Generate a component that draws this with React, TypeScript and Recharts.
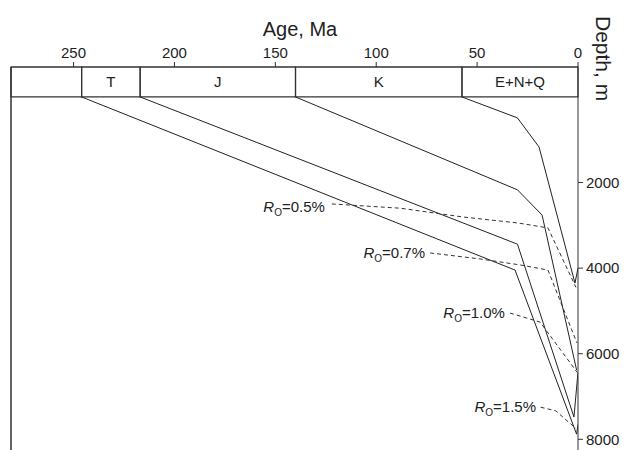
import React from 'react';
import { LineChart, Line, XAxis, YAxis, ReferenceArea, ReferenceLine, ReferenceDot } from 'recharts';

// Geological time scale (Ma)
const periodNames = ['', 'T', 'J', 'K', 'E+N+Q'];
const periodStart = [281, 246, 217, 140, 57.5];
const periodEnd = [246, 217, 140, 57.5, 0];

const ageTicks = [0, 50, 100, 150, 200, 250];
const depthTicks = [2000, 4000, 6000, 8000];

// burial curves, one per horizon: [age Ma, depth m]
const burialE = [[57.5, 0], [30, 490], [19.3, 1170], [1.5, 4350], [0, 4000]];
const burialK = [[140, 0], [30, 2170], [17.8, 2760], [0.7, 6380]];
const burialJ = [[217, 0], [30, 3440], [2, 7480], [0, 6430]];
const burialT = [[246, 0], [31.2, 4045], [0.7, 7880], [0, 7650]];

// isoreflectance lines
const ro05 = [[122, 2500], [88, 2600], [57, 2805], [29.7, 2945], [14.9, 3060], [1, 4450]];
const ro07 = [[73.3, 3645], [48.6, 3785], [28.7, 3925], [14.9, 4045], [0.5, 5750]];
const ro10 = [[33.7, 5050], [18.8, 5260], [0.5, 6430]];
const ro15 = [[18.5, 7250], [11, 7335], [1, 7750]];

// label anchors (right end of the label text)
const roLabels = ['0.5%', '0.7%', '1.0%', '1.5%'];
const roLabelAge = [125.4, 75.8, 36.2, 20.8];
const roLabelDepth = [2572, 3645, 5050, 7245];

const toPts = (arr: number[][]) => arr.map(([age, depth]) => ({ age, depth }));

const FONT = '"Liberation Sans", Arial, sans-serif';
const INK = '#222';

const RoLabel = ({ cx, cy, value }: any) => (
  <text x={cx} y={cy} dy={5} textAnchor="end" fontFamily={FONT} fontSize={15} fill={INK}>
    <tspan fontStyle="italic">R</tspan>
    <tspan fontSize={10} dy={4}>O</tspan>
    <tspan dy={-4}>={value}</tspan>
  </text>
);

const App = () => {
  const solids = [burialE, burialK, burialJ, burialT];
  const dashed = [ro05, ro07, ro10, ro15];
  return (
    <div style={{ position: 'absolute', left: 0, top: 0, width: 627, height: 450, background: '#fff' }}>
      <LineChart width={627} height={450} margin={{ top: 37, right: 9, left: 11, bottom: 0 }}>
        <XAxis
          type="number"
          dataKey="age"
          orientation="top"
          reversed
          domain={[0, 281]}
          allowDataOverflow
          ticks={ageTicks}
          height={30}
          tickSize={5}
          tickMargin={4}
          stroke="#333"
          tick={{ fontSize: 15, fill: INK, fontFamily: FONT }}
        />
        <YAxis
          type="number"
          orientation="right"
          reversed
          domain={[-700, 8250]}
          allowDataOverflow
          ticks={depthTicks}
          width={40}
          tickSize={5}
          tickMargin={3}
          stroke="#333"
          tick={{ fontSize: 15, fill: INK, fontFamily: FONT }}
        />
        <ReferenceLine x={281} stroke="#333" strokeWidth={1.5} />
        {periodNames.map((name, i) => (
          <ReferenceArea
            key={'p' + i}
            x1={periodStart[i]}
            x2={periodEnd[i]}
            y1={-700}
            y2={0}
            fill="none"
            stroke="#333"
            strokeWidth={1.2}
            fillOpacity={0}
            label={{ value: name, position: 'center', fontSize: 15, fill: INK, fontFamily: FONT }}
          />
        ))}
        {solids.map((d, i) => (
          <Line
            key={'s' + i}
            data={toPts(d)}
            dataKey="depth"
            type="linear"
            stroke={INK}
            strokeWidth={1}
            dot={false}
            isAnimationActive={false}
          />
        ))}
        {dashed.map((d, i) => (
          <Line
            key={'d' + i}
            data={toPts(d)}
            dataKey="depth"
            type="linear"
            stroke="#333"
            strokeWidth={1}
            strokeDasharray="4 3"
            dot={false}
            isAnimationActive={false}
          />
        ))}
        {roLabels.map((v, i) => (
          <ReferenceDot
            key={'l' + i}
            x={roLabelAge[i]}
            y={roLabelDepth[i]}
            r={0}
            shape={(p: any) => <RoLabel cx={p.cx} cy={p.cy} value={v} />}
          />
        ))}
      </LineChart>
      <div style={{ position: 'absolute', left: 0, top: 18, width: 600, textAlign: 'center', fontFamily: FONT, fontSize: 20, color: INK, lineHeight: '22px' }}>
        Age, Ma
      </div>
      <div
        style={{
          position: 'absolute',
          left: 591,
          top: 16,
          writingMode: 'vertical-rl',
          fontFamily: FONT,
          fontSize: 21,
          color: INK,
          lineHeight: '24px',
        }}
      >
        Depth, m
      </div>
    </div>
  );
};

export default App;
